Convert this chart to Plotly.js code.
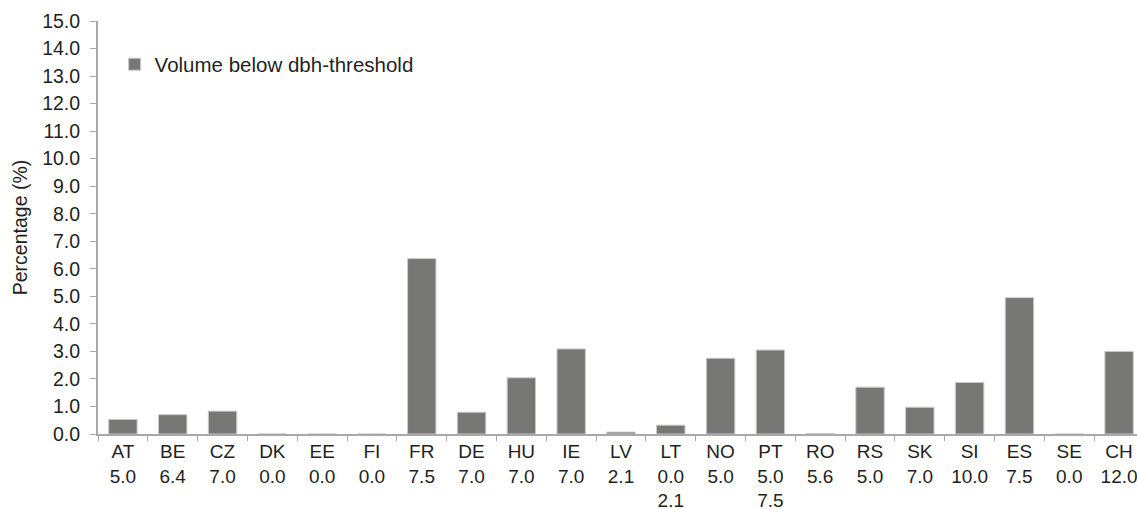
<!DOCTYPE html>
<html>
<head>
<meta charset="utf-8">
<script src="https://cdn.plot.ly/plotly-3.0.1.min.js"></script>
<style>
html, body { margin: 0; padding: 0; overflow: hidden; background: #fff; }
#chart { width: 1137px; height: 509px; }
</style>
</head>
<body>
<div id="chart"></div>
<script>
var countries = ["AT","BE","CZ","DK","EE","FI","FR","DE","HU","IE","LV","LT","NO","PT","RO","RS","SK","SI","ES","SE","CH"];
var thresholds = ["5.0","6.4","7.0","0.0","0.0","0.0","7.5","7.0","7.0","7.0","2.1","0.0<br>2.1","5.0","5.0<br>7.5","5.6","5.0","7.0","10.0","7.5","0.0","12.0"];
var volumeBelow = [0.53,0.70,0.83,0,0,0,6.37,0.79,2.04,3.09,0.07,0.32,2.75,3.05,0.02,1.70,0.97,1.87,4.95,0,3.00];
var seriesName = "Volume below dbh-threshold";
var yTitle = "Percentage (%)";

var tickText = countries.map(function (c, i) { return c + "<br>" + thresholds[i]; });

var FONT = "Liberation Sans, Arial, sans-serif";
var TXT = "#231f20";
var AX = "#a9a9a9";

var trace = {
  type: "bar",
  x: countries,
  y: volumeBelow,
  name: seriesName,
  showlegend: true,
  marker: { color: "#777775", line: { color: "#c9c9c9", width: 1 } }
};

var layout = {
  width: 1137,
  height: 509,
  margin: { l: 98, r: 0, t: 21, b: 75 },
  paper_bgcolor: "#ffffff",
  plot_bgcolor: "#ffffff",
  font: { family: FONT, size: 19.5, color: TXT },
  bargap: 0.43,
  showlegend: true,
  legend: {
    x: 0.016, y: 0.895, xanchor: "left", yanchor: "middle",
    bgcolor: "rgba(0,0,0,0)",
    font: { family: FONT, size: 20.5, color: TXT }
  },
  xaxis: {
    type: "category",
    range: [-0.5, 20.36],
    tickmode: "array",
    tickvals: countries,
    ticktext: tickText,
    tickson: "boundaries",
    ticks: "outside",
    ticklen: 5,
    tickcolor: AX,
    showline: true,
    linecolor: AX,
    linewidth: 2,
    showgrid: false,
    zeroline: false,
    tickangle: 0,
    ticklabelstandoff: -1,
    tickfont: { family: FONT, size: 19, color: TXT }
  },
  yaxis: {
    range: [0, 15],
    dtick: 1,
    tick0: 0,
    tickformat: ".1f",
    ticks: "outside",
    ticklen: 6,
    tickcolor: AX,
    ticklabelstandoff: 6,
    showline: true,
    linecolor: AX,
    linewidth: 2,
    showgrid: false,
    zeroline: false,
    tickfont: { family: FONT, size: 19.5, color: TXT },
    title: { text: yTitle, font: { family: FONT, size: 19.5, color: TXT }, standoff: 9 }
  }
};

Plotly.newPlot("chart", [trace], layout, { displayModeBar: false, responsive: false });
</script>
</body>
</html>
